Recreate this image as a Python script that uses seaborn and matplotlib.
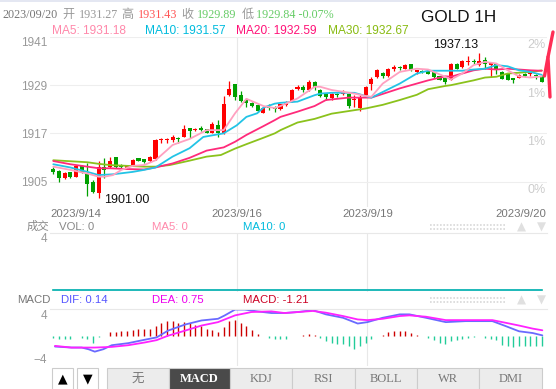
import numpy as np
import pandas as pd
import matplotlib
matplotlib.use("Agg")
import matplotlib.pyplot as plt
from matplotlib.lines import Line2D
from matplotlib.patches import Rectangle
import seaborn as sns

sns.set_style("white")
plt.rcParams['font.family'] = ['Liberation Sans', 'Noto Sans CJK SC', 'DejaVu Sans']

# hourly GOLD candles 2023/9/14 - 2023/9/20
opens = [1908.10, 1907.61, 1905.78, 1907.28, 1906.20, 1908.93, 1907.03, 1904.95, 1902.22, 1908.68,
         1908.52, 1911.01, 1908.85, 1908.35, 1909.10, 1910.76, 1910.51, 1910.18, 1910.51, 1915.32,
         1915.32, 1915.32, 1915.90, 1916.15, 1918.22, 1917.81, 1918.22, 1918.05, 1917.14, 1919.05,
         1916.98, 1926.51, 1929.25, 1926.51, 1925.43, 1924.61, 1924.03, 1922.12, 1923.61, 1923.36,
         1922.95, 1924.03, 1924.85, 1928.17, 1928.59, 1927.76, 1929.83, 1927.92, 1926.68, 1925.68,
         1926.68, 1926.68, 1926.68, 1925.19, 1923.20, 1926.51, 1929.41, 1931.07, 1932.07, 1931.24,
         1933.15, 1933.56, 1933.15, 1934.39, 1932.32, 1932.57, 1932.48, 1932.32, 1931.24, 1930.82,
         1930.41, 1934.39, 1933.56, 1934.80, 1935.05, 1933.98, 1935.22, 1934.14, 1934.22, 1932.32,
         1931.90, 1930.82, 1930.91, 1931.90, 1931.74, 1931.49, 1931.27]
highs = [1908.52, 1907.86, 1907.36, 1907.44, 1909.10, 1909.10, 1909.68, 1905.37, 1910.09, 1910.92,
         1911.17, 1911.17, 1909.27, 1909.02, 1910.50, 1910.90, 1910.70, 1911.34, 1915.50, 1915.90,
         1915.74, 1916.56, 1916.15, 1919.05, 1918.39, 1918.30, 1918.88, 1918.20, 1919.88, 1920.29,
         1926.26, 1930.00, 1929.41, 1927.59, 1925.68, 1924.85, 1924.20, 1923.44, 1924.27, 1923.78,
         1924.40, 1925.10, 1928.00, 1929.00, 1929.00, 1930.24, 1930.00, 1928.17, 1926.93, 1926.93,
         1927.09, 1927.76, 1927.09, 1926.51, 1926.51, 1928.83, 1931.07, 1933.15, 1932.23, 1933.31,
         1933.98, 1933.73, 1934.30, 1934.39, 1932.90, 1932.70, 1932.60, 1932.50, 1931.40, 1931.07,
         1934.56, 1934.50, 1935.20, 1936.30, 1935.63, 1937.13, 1936.05, 1934.70, 1934.39, 1932.50,
         1932.10, 1930.90, 1931.80, 1932.00, 1932.15, 1931.90, 1931.43]
lows = [1906.86, 1904.95, 1905.53, 1905.95, 1906.03, 1907.03, 1901.30, 1902.22, 1901.00, 1905.78,
        1908.27, 1908.27, 1908.02, 1908.18, 1909.00, 1910.00, 1909.70, 1909.93, 1910.30, 1914.49,
        1914.49, 1914.90, 1914.65, 1915.98, 1915.73, 1917.60, 1917.64, 1917.00, 1916.98, 1915.98,
        1916.81, 1926.26, 1925.27, 1924.85, 1923.61, 1923.61, 1922.40, 1921.95, 1922.78, 1922.37,
        1922.80, 1923.90, 1924.70, 1927.76, 1927.34, 1927.59, 1927.76, 1926.10, 1925.43, 1925.43,
        1925.93, 1926.51, 1923.20, 1923.61, 1922.62, 1926.26, 1927.76, 1930.90, 1930.90, 1931.07,
        1932.57, 1932.90, 1933.00, 1932.57, 1931.74, 1932.10, 1931.70, 1930.90, 1930.20, 1929.41,
        1930.24, 1933.00, 1933.40, 1933.98, 1934.39, 1933.80, 1933.15, 1931.07, 1931.90, 1930.50,
        1930.20, 1929.58, 1930.70, 1931.10, 1931.32, 1930.66, 1929.84]
closes = [1907.28, 1905.78, 1907.03, 1906.20, 1908.93, 1907.44, 1904.37, 1902.47, 1908.68, 1907.86,
          1910.09, 1908.68, 1908.52, 1908.85, 1910.34, 1910.18, 1909.93, 1911.01, 1915.32, 1915.57,
          1915.57, 1916.15, 1915.57, 1918.05, 1917.56, 1918.05, 1917.81, 1917.14, 1919.22, 1917.14,
          1924.27, 1928.00, 1926.10, 1925.10, 1924.44, 1923.78, 1922.53, 1923.20, 1923.20, 1922.95,
          1924.19, 1924.85, 1927.76, 1928.59, 1927.76, 1929.83, 1928.42, 1926.26, 1926.10, 1926.68,
          1926.43, 1926.93, 1923.78, 1925.43, 1926.10, 1928.59, 1930.66, 1932.90, 1931.24, 1933.15,
          1933.56, 1933.31, 1934.14, 1932.90, 1932.73, 1932.32, 1931.90, 1931.07, 1930.41, 1929.83,
          1934.22, 1933.15, 1935.05, 1935.05, 1934.80, 1935.05, 1934.22, 1934.56, 1932.73, 1930.66,
          1930.41, 1930.41, 1931.65, 1931.24, 1931.90, 1931.24, 1929.89]

# moving average lines, sampled at candle positions
ma5_x = [0, 3, 6, 8, 9, 10.5, 12, 14, 16, 18, 20, 21, 24, 27, 30, 32, 34, 37, 39, 40, 43,
         46, 47, 49, 53, 55, 56, 58, 61, 64, 66, 69, 70, 72, 74, 76, 78, 80, 82, 84, 86]
ma5_y = [1908.7, 1907.9, 1907.0, 1906.2, 1906.2, 1906.6, 1907.9, 1908.9, 1909.1, 1910.3, 1912.8,
         1914.1, 1915.6, 1917.8, 1917.8, 1922.0, 1925.6, 1923.8, 1923.3, 1923.8, 1925.7,
         1928.6, 1928.6, 1927.8, 1926.9, 1926.3, 1926.1, 1929.4, 1932.3, 1933.1, 1932.9,
         1931.1, 1930.4, 1931.9, 1934.0, 1934.8, 1934.4, 1932.7, 1931.2, 1930.9, 1931.18]
ma10_x = [0, 3, 6, 8, 10.5, 14, 16, 18, 20, 21, 24, 26.4, 30, 32.3, 34, 35.9, 37, 39, 40, 43,
          46, 47, 49, 53, 55, 56, 58, 61, 64, 66, 69, 72, 74, 76, 78, 80, 82, 84, 86]
ma10_y = [1909.3, 1908.5, 1907.4, 1906.6, 1906.8, 1907.4, 1907.9, 1908.5, 1910.3, 1911.2,
          1913.3, 1916.1, 1917.0, 1919.0, 1921.1, 1922.0, 1923.4, 1924.4, 1924.6, 1924.9,
          1926.5, 1926.9, 1927.1, 1927.1, 1926.3, 1925.9, 1927.3, 1929.4, 1931.9, 1932.6,
          1932.6, 1932.6, 1932.9, 1933.1, 1934.0, 1933.7, 1932.7, 1932.3, 1931.57]
ma20_x = [0, 3, 6, 8, 10, 13, 16, 18, 21, 24, 27, 30, 32, 34, 37, 39, 40, 43, 46, 48, 52, 56,
          61, 66, 69, 70, 72, 74, 76, 78, 80, 82, 84, 86]
ma20_y = [1910.1, 1909.3, 1908.7, 1908.3, 1908.3, 1908.1, 1908.0, 1908.5, 1909.5, 1910.9,
          1912.7, 1913.5, 1914.9, 1916.6, 1918.8, 1920.3, 1921.1, 1922.4, 1923.8, 1925.3,
          1925.9, 1925.9, 1928.2, 1930.2, 1931.2, 1931.1, 1931.9, 1932.7, 1933.1, 1932.9,
          1933.1, 1932.9, 1932.7, 1932.59]
ma30_x = [0, 6, 8, 10, 13, 16, 18, 20.5, 24, 27, 29.5, 32, 34, 37, 39, 40, 43, 46, 49, 55,
          58, 61, 64, 66, 69, 70, 72, 74, 76, 78, 80, 82, 84, 86]
ma30_y = [1910.3, 1909.8, 1909.4, 1909.1, 1908.9, 1908.7, 1908.7, 1909.1, 1910.2, 1911.2,
          1911.6, 1913.2, 1914.3, 1915.9, 1917.0, 1917.8, 1919.7, 1920.6, 1921.9, 1923.2,
          1924.1, 1925.3, 1926.6, 1928.0, 1928.8, 1929.0, 1929.6, 1930.2, 1930.9, 1931.1,
          1931.9, 1932.1, 1932.3, 1932.67]

vol = [0] * len(opens)

# MACD histogram, one per candle
macd_hist = [-0.35, -0.4, -0.4, -0.4, 0, -0.3, -0.4, -1.1, -0.15, 0,
             0.73, 0.85, 0.91, 1.03, 1.15, 1.33, 1.33, 1.33, 1.94, 2.42,
             2.67, 2.67, 2.48, 2.55, 2.36, 2.12, 1.94, 1.33, 1.21, 0.73,
             1.64, 2.67, 2.85, 2.42, 1.94, 1.21, 0.42, 0, -0.3, -0.4,
             -0.4, -0.4, 0, 0.1, 0.2, 0.35, 0.2, -0.3, -0.9, -1.2,
             -1.33, -1.33, -1.8, -2.3, -1.8, -1.2, -0.4, 0, 0.3, 0.73,
             0.9, 1.03, 1.03, 0.6, 0.3, 0, -0.3, -0.73, -1.1, -1.33,
             -0.9, -0.73, -0.5, -0.2, -0.12, 0, -0.2, -0.5, -0.73, -1.5,
             -1.8, -1.94, -1.8, -1.7, -1.8, -1.8, -1.7]
dif_x = [0.3, 3.2, 5, 6.2, 7.3, 8.8, 10.3, 13.2, 16.1, 18.2, 20.2, 23.2, 26.1, 29, 30.2, 32,
         33.7, 36.1, 38.4, 40.7, 43.1, 45.7, 48, 51, 53.6, 55.3, 58, 61, 62.7, 65.6, 69.1,
         72.6, 77.3, 79.7, 82, 84.4, 86.1]
dif_y = [-1.82, -2.0, -2.0, -2.3, -2.73, -2.3, -1.58, -1.21, -0.6, -0.18, 1.03, 2.12, 2.85,
         3.15, 3.76, 4.8, 4.8, 4.45, 4.18, 4.18, 4.36, 4.7, 3.94, 3.33, 2.3, 2.55, 3.33, 3.94,
         3.94, 3.33, 2.55, 2.73, 2.73, 1.82, 0.91, 0.6, 0.18]
dea_x = [0.3, 3.2, 7.3, 10.3, 13.2, 16.1, 18.2, 20.2, 23.2, 26.1, 29, 32, 34.9, 38.4, 40.7,
         43.1, 45.7, 48, 51, 53.6, 55.3, 58, 61, 62.7, 65.6, 69.1, 72.6, 77.3, 79.7, 82,
         84.4, 86.1]
dea_y = [-1.7, -2.0, -2.0, -1.88, -1.58, -1.09, -0.67, 0.12, 1.03, 1.94, 2.55, 3.76, 4.36,
         4.48, 4.18, 4.36, 4.55, 4.24, 3.64, 3.03, 2.91, 3.15, 3.64, 3.76, 3.52, 2.91, 2.91,
         2.91, 2.42, 1.94, 1.39, 1.09]

price_ticks = [1905, 1917, 1929, 1941]
pct_labels = ['0%', '1%', '1%', '2%']
date_pos = [-0.45, 32.3, 55.3, 86.8]
date_labels = ['2023/9/14', '2023/9/16', '2023/9/19', '2023/9/20']
tabs = ['无', 'MACD', 'KDJ', 'RSI', 'BOLL', 'WR', 'DMI']

df = pd.DataFrame({'open': opens, 'high': highs, 'low': lows, 'close': closes})
df['i'] = np.arange(len(df))
df['up'] = df['close'] >= df['open']

W, H = 556, 389
fig = plt.figure(figsize=(W / 100, H / 100), dpi=100)


def box(x0, y0, x1, y1):
    return [x0 / W, 1 - y1 / H, (x1 - x0) / W, (y1 - y0) / H]


def ftext(x, y, s, **kw):
    kw.setdefault('va', 'center')
    kw.setdefault('fontsize', 8.5)
    fig.text(x / W, 1 - y / H, s, **kw)


RED, GREEN = '#ff0000', '#00a000'
xlim = (-0.58, 86.92)

ax_p = fig.add_axes(box(50, 37, 547, 207))
ax_v = fig.add_axes(box(50, 233, 547, 292))
ax_m = fig.add_axes(box(50, 309, 547, 366))

for ax in (ax_p, ax_v, ax_m):
    ax.set_xlim(*xlim)
    for s in ax.spines.values():
        s.set_visible(False)
    for p in date_pos[1:3]:
        ax.axvline(p, color='#e8e8e8', lw=0.8, zorder=0)
    ax.tick_params(axis='y', length=0, pad=2, labelsize=8.5, labelcolor='#999999')
    ax.tick_params(axis='x', length=0)

# ---- price panel
ax_p.set_ylim(1898.65, 1941)
ax_p.set_yticks(price_ticks)
ax_p.grid(axis='y', color='#eeeeee', lw=0.8)
ax_p.set_axisbelow(True)
ax_p.get_yticklabels()[-1].set_va('top')
ax_p.set_xticks(date_pos, date_labels)
ax_p.tick_params(axis='x', pad=1.5, labelsize=8.2, labelcolor='#777777')
xl = ax_p.get_xticklabels()
xl[0].set_ha('left')
xl[-1].set_ha('right')

cols = np.where(df['up'], RED, GREEN)
ax_p.vlines(df['i'], df['low'], df['high'], colors=cols, lw=0.9, zorder=3)
body = np.maximum((df['close'] - df['open']).abs(), 0.25)
ax_p.bar(df['i'], body, bottom=np.minimum(df['open'], df['close']), width=0.72,
         color=cols, lw=0, zorder=4)

for xs, ys, c in [(ma30_x, ma30_y, '#8bc21c'), (ma20_x, ma20_y, '#ff2a7a'),
                  (ma10_x, ma10_y, '#22c4e6'), (ma5_x, ma5_y, '#ffa0c0')]:
    sns.lineplot(x=xs, y=ys, ax=ax_p, color=c, lw=1.3, zorder=5)

for t, lab in zip(price_ticks, pct_labels):
    ax_p.text(86.7, t - 2.1, lab, ha='right', va='center', color='#cccccc', fontsize=9)

imax = int(df['high'].idxmax())
imin = int(df['low'].idxmin())
ax_p.annotate(f"{df['high'][imax]:.2f}", (imax, df['high'][imax]), xytext=(-1, 1),
              textcoords='offset points', ha='right', va='bottom', fontsize=9, color='#111111')
ax_p.annotate(f"{df['low'][imin]:.2f}", (imin, df['low'][imin]), xytext=(4, -1.5),
              textcoords='offset points', ha='left', va='center', fontsize=9, color='#111111')
ax_p.set_xlabel('')
ax_p.set_ylabel('')

# ---- volume panel
ax_v.set_ylim(-0.12, 4)
ax_v.set_yticks([4])
ax_v.get_yticklabels()[0].set_va('top')
ax_v.set_xticks([])
ax_v.spines['top'].set_visible(True)
ax_v.spines['top'].set_color('#e8e8e8')
vol_s = pd.Series(vol)
ax_v.bar(df['i'], vol, width=0.72, color=RED)
sns.lineplot(x=df['i'], y=vol_s.rolling(5, min_periods=1).mean(), ax=ax_v, color='#00aa44', lw=1.2)
sns.lineplot(x=df['i'], y=vol_s.rolling(10, min_periods=1).mean(), ax=ax_v, color='#22bbcc', lw=1.2)
ax_v.set_xlabel('')
ax_v.set_ylabel('')

# ---- MACD panel
ax_m.set_ylim(-5.3, 4.9)
ax_m.set_yticks([4, -4])
ax_m.set_xticks([])
ax_m.spines['top'].set_visible(True)
ax_m.spines['top'].set_color('#e8e8e8')
hcol = ['#cc0000' if v > 0 else '#22cc99' for v in macd_hist]
ax_m.vlines(df['i'], 0, macd_hist, colors=hcol, lw=1.0)
sns.lineplot(x=dif_x, y=dif_y, ax=ax_m, color='#6a6aff', lw=1.3)
sns.lineplot(x=dea_x, y=dea_y, ax=ax_m, color='#ff22ff', lw=1.3)
ax_m.set_xlabel('')
ax_m.set_ylabel('')

# ---- header texts
fig.add_artist(Rectangle((0, 1 - 2 / H), 1, 2 / H, transform=fig.transFigure,
                         color='#e4e7f2', lw=0))
serif = ['Liberation Serif', 'Noto Sans CJK SC']
for x, s, c in [(2, '2023/09/20', '#777777'), (62, '开', '#999999'), (79, '1931.27', '#999999'),
                (121, '高', '#999999'), (138, '1931.43', '#ff5555'), (181, '收', '#999999'),
                (197, '1929.89', '#66cc66'), (242, '低', '#999999'),
                (256, '1929.84 -0.07%', '#66cc66')]:
    ftext(x, 15, s, color=c, family=serif, fontsize=8.7)

for x, s, c in [(52, 'MA5: 1931.18', '#ff88aa'), (145, 'MA10: 1931.57', '#00bbdd'),
                (236, 'MA20: 1932.59', '#ff1177'), (328, 'MA30: 1932.67', '#88bb11')]:
    ftext(x, 31, s, color=c, fontsize=8.6)

ftext(421, 17, 'GOLD 1H', color='#111111', fontsize=12.3)

for x, s, c in [(27, '成交', '#888888'), (59, 'VOL: 0', '#888888'),
                (152, 'MA5: 0', '#ff88aa'), (243, 'MA10: 0', '#00bbdd')]:
    ftext(x, 226.5, s, color=c, fontsize=8.2)
for x, s, c in [(17, 'MACD', '#777777'), (61, 'DIF: 0.14', '#5555ff'),
                (152, 'DEA: 0.75', '#ee00ee'), (243, 'MACD: -1.21', '#cc0022')]:
    ftext(x, 300, s, color=c, fontsize=8.2)

for yy in (226.5, 300):
    for dy in (-2, 2):
        fig.add_artist(Line2D([430 / W, 505 / W], [1 - (yy + dy) / H] * 2,
                              transform=fig.transFigure, color='#d8d8d8', lw=1.2,
                              ls=(0, (1, 1))))
    ftext(521, yy + 0.5, '▲', color='#e0e0e0', fontsize=8.5, ha='center', family='DejaVu Sans')
    ftext(541, yy + 0.5, '▼', color='#e0e0e0', fontsize=8.5, ha='center', family='DejaVu Sans')

# red arrow at the right edge
arrow_x = [544.5, 548, 550]
arrow_y = [76, 57, 97]
fig.add_artist(Line2D([v / W for v in arrow_x], [1 - v / H for v in arrow_y],
                      transform=fig.transFigure, color='#ff2d55', lw=2.4))
fig.add_artist(Line2D([548 / W, 553 / W], [1 - 57 / H, 1 - 32 / H],
                      transform=fig.transFigure, color='#ff2d55', lw=2.4))

# ---- bottom buttons
for x0, x1, s in [(52, 73, '▲'), (77, 98, '▼')]:
    fig.add_artist(Rectangle((x0 / W, 1 - 392 / H), (x1 - x0) / W, 24 / H,
                             transform=fig.transFigure, facecolor='white',
                             edgecolor='#cccccc', lw=0.8))
    ftext((x0 + x1) / 2, 378.5, s, ha='center', color='black', fontsize=9, family='DejaVu Sans')

edges = [107, 169, 230, 292, 355, 417, 479, 542]
for k, s in enumerate(tabs):
    active = s == 'MACD'
    fig.add_artist(Rectangle((edges[k] / W, 1 - 392 / H), (edges[k + 1] - edges[k]) / W, 24 / H,
                             transform=fig.transFigure,
                             facecolor='#4a4a4a' if active else '#ececec',
                             edgecolor='#cccccc', lw=0.8))
    ftext((edges[k] + edges[k + 1]) / 2, 378.5, s, ha='center',
          color='white' if active else '#777777', family=serif, fontsize=9,
          weight='bold' if active else 'normal')

fig.savefig('out.png', dpi=100)
